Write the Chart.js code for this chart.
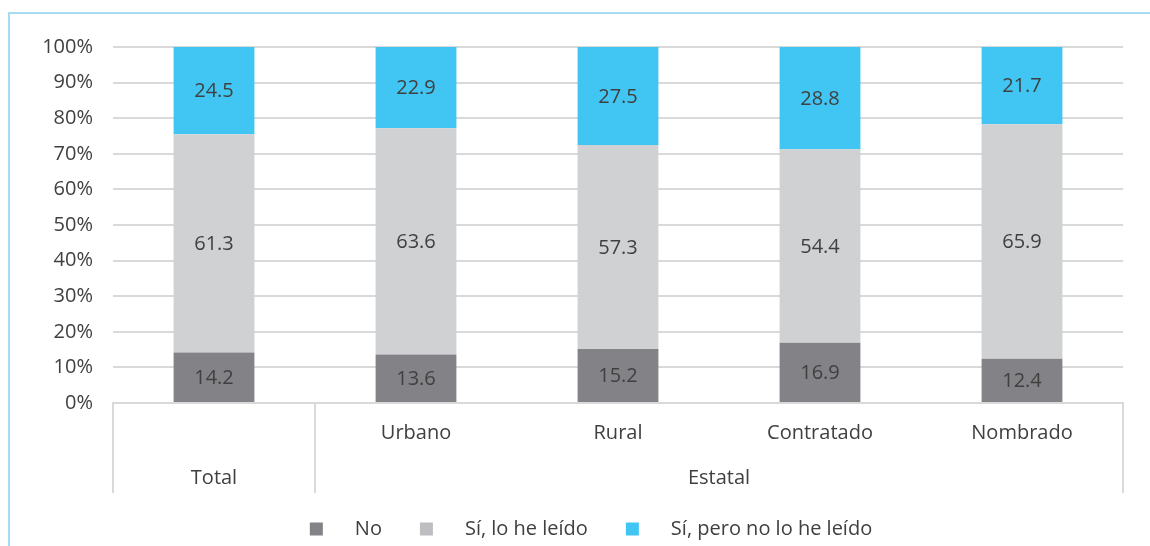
<!DOCTYPE html>
<html>
<head>
<meta charset="utf-8">
<script src="https://cdn.jsdelivr.net/npm/chart.js@4"></script>
<style>
  html, body { margin: 0; padding: 0; background: #ffffff; }
  #wrap { position: relative; width: 1150px; height: 546px; overflow: hidden; }
  #frame { position: absolute; left: 8px; top: 12px; width: 1200px; height: 600px;
           border-left: 2px solid #a6dbf3; border-top: 2px solid #a6dbf3; }
  canvas { position: absolute; left: 0; top: 0; }
</style>
</head>
<body>
<div id="wrap">
  <div id="frame"></div>
  <canvas id="chart" width="1150" height="546"></canvas>
</div>
<script>
// categories (two levels)
const subLabels = ['', 'Urbano', 'Rural', 'Contratado', 'Nombrado'];
const groups = [
    { label: 'Total', from: 0, to: 0 },
    { label: 'Estatal', from: 1, to: 4 }
];

// series values (%)
const noValues = [14.2, 13.6, 15.2, 16.9, 12.4];
const leidoValues = [61.3, 63.6, 57.3, 54.4, 65.9];
const peroValues = [24.5, 22.9, 27.5, 28.8, 21.7];

const seriesNames = ['No', 'Sí, lo he leído', 'Sí, pero no lo he leído'];
const yTicks = [0, 10, 20, 30, 40, 50, 60, 70, 80, 90, 100];

const FONT = '"Open Sans", sans-serif';
const SIZE = 20;
const TEXT = '#404040';
const GRID = '#d9d9d9';

// data labels centred in each segment
const segmentLabels = {
    id: 'segmentLabels',
    afterDatasetsDraw(chart) {
        const ctx = chart.ctx;
        ctx.save();
        ctx.font = SIZE + 'px ' + FONT;
        ctx.fillStyle = TEXT;
        ctx.textAlign = 'center';
        ctx.textBaseline = 'middle';
        chart.data.datasets.forEach((ds, i) => {
            chart.getDatasetMeta(i).data.forEach((bar, j) => {
                const mid = (bar.y + bar.base) / 2;
                ctx.fillText(ds.data[j].toFixed(1), bar.x, mid + 1);
            });
        });
        ctx.restore();
    }
};

// group separators and the second level of x labels
const groupAxis = {
    id: 'groupAxis',
    afterDraw(chart) {
        const ctx = chart.ctx;
        const x = chart.scales.x;
        const area = chart.chartArea;
        const half = (x.getPixelForValue(1) - x.getPixelForValue(0)) / 2;
        const bottom = area.bottom + 90;
        ctx.save();
        ctx.strokeStyle = GRID;
        ctx.lineWidth = 2;
        const edges = new Set();
        groups.forEach(g => {
            edges.add(Math.round(x.getPixelForValue(g.from) - half));
            edges.add(Math.round(x.getPixelForValue(g.to) + half));
        });
        edges.forEach(px => {
            ctx.beginPath();
            ctx.moveTo(px, area.bottom);
            ctx.lineTo(px, bottom);
            ctx.stroke();
        });
        ctx.font = SIZE + 'px ' + FONT;
        ctx.fillStyle = TEXT;
        ctx.textAlign = 'center';
        ctx.textBaseline = 'middle';
        groups.forEach(g => {
            const cx = (x.getPixelForValue(g.from) + x.getPixelForValue(g.to)) / 2;
            ctx.fillText(g.label, cx, area.bottom + 75);
        });
        ctx.restore();
    }
};

// legend drawn below the axis
const bottomLegend = {
    id: 'bottomLegend',
    afterDraw(chart) {
        const ctx = chart.ctx;
        ctx.save();
        ctx.font = SIZE + 'px ' + FONT;
        ctx.textBaseline = 'middle';
        const y = 529;
        const box = 13, gap = 32, itemGap = 38;
        const widths = chart.data.datasets.map(ds => box + gap + ctx.measureText(ds.label).width);
        const total = widths.reduce((a, b) => a + b, 0) + itemGap * (widths.length - 1);
        let xPos = (chart.width - total) / 2 + 16;
        chart.data.datasets.forEach((ds, i) => {
            ctx.fillStyle = ds.legendColor;
            ctx.fillRect(xPos, y - box / 2, box, box);
            ctx.fillStyle = TEXT;
            ctx.textAlign = 'left';
            ctx.fillText(ds.label, xPos + box + gap, y);
            xPos += widths[i] + itemGap;
        });
        ctx.restore();
    }
};

new Chart(document.getElementById('chart'), {
    type: 'bar',
    data: {
        labels: subLabels,
        datasets: [
            { label: seriesNames[0], data: noValues, backgroundColor: '#838387', legendColor: '#838387' },
            { label: seriesNames[1], data: leidoValues, backgroundColor: '#d0d1d3', legendColor: '#bebec2' },
            { label: seriesNames[2], data: peroValues, backgroundColor: '#41c6f3', legendColor: '#41c6f3' }
        ]
    },
    options: {
        responsive: false,
        animation: false,
        devicePixelRatio: 1,
        layout: { padding: { top: 47, right: 27, left: 0, bottom: 0 } },
        datasets: { bar: { categoryPercentage: 1, barPercentage: 0.4 } },
        plugins: {
            legend: { display: false },
            tooltip: { enabled: false }
        },
        scales: {
            x: {
                stacked: true,
                grid: { display: false, drawTicks: false },
                border: { color: GRID, width: 2 },
                ticks: { color: TEXT, font: { family: FONT, size: SIZE }, padding: 18, maxRotation: 0 },
                afterFit: s => { s.height = 143; }
            },
            y: {
                stacked: true,
                min: 0,
                max: 100,
                afterBuildTicks: s => { s.ticks = yTicks.map(v => ({ value: v })); },
                grid: { color: GRID, lineWidth: 2, drawTicks: false },
                border: { display: false },
                ticks: {
                    color: TEXT,
                    font: { family: FONT, size: SIZE },
                    padding: 20,
                    callback: v => v + '%'
                },
                afterFit: s => { s.width = 113; }
            }
        }
    },
    plugins: [segmentLabels, groupAxis, bottomLegend]
});
</script>
</body>
</html>
